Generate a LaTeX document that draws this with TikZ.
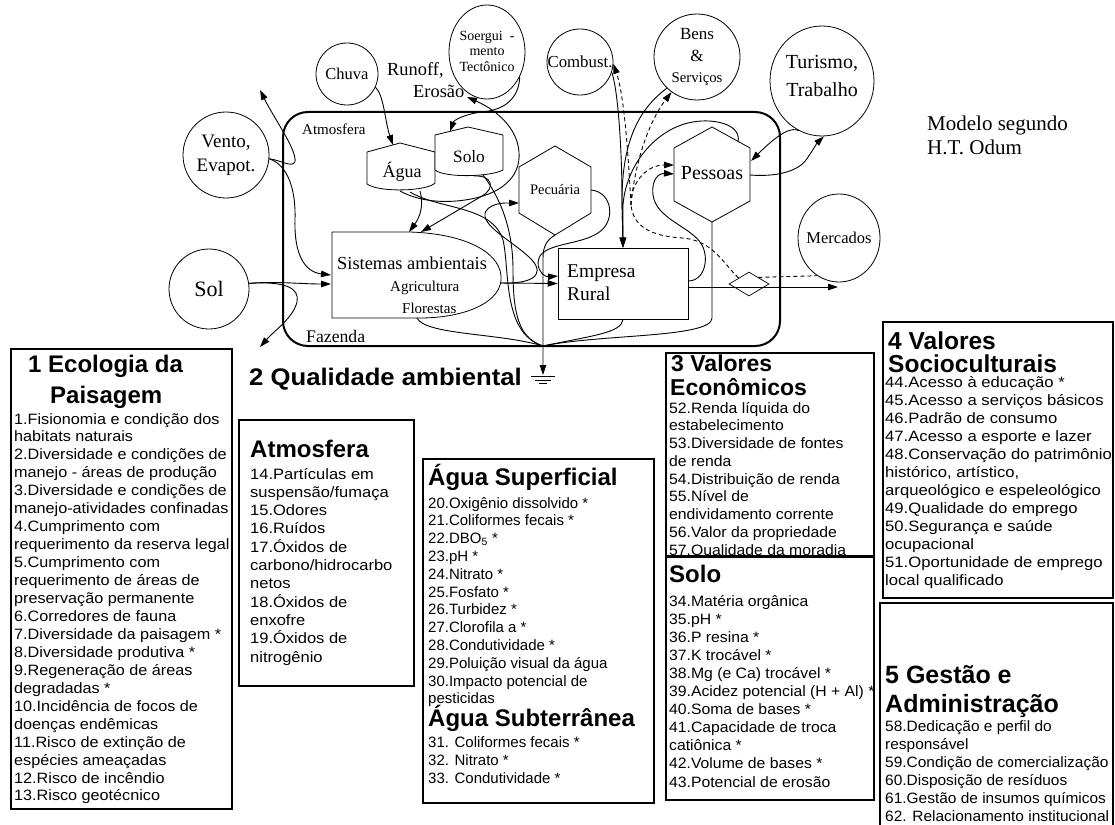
\documentclass[tikz,border=0pt]{standalone}
\usepackage{fontspec}
\setmainfont{Liberation Serif}
\setsansfont{Liberation Sans}
\newfontfamily\sfA{Liberation Sans}[FakeStretch=1.08]
\newfontfamily\sfB{Liberation Sans}[FakeStretch=1.10]
\newfontfamily\sfC{Liberation Sans}[FakeStretch=1.05]
\newfontfamily\sfD{Liberation Sans}[FakeStretch=1.11]
\newfontfamily\sfE{Liberation Sans}[FakeStretch=1.03]
\newfontfamily\sfH{Liberation Sans}[FakeStretch=1.07]
\usetikzlibrary{arrows.meta,shapes.geometric}
\newcommand{\fsz}[1]{\fontsize{#1}{#1}\selectfont}
\begin{document}
\begin{tikzpicture}[x=1pt,y=-1pt,
  src/.style={draw, line width=0.8pt, circle, inner sep=0pt, align=center},
  esrc/.style={draw, line width=0.8pt, ellipse, inner sep=0pt},
  shp/.style={draw, line width=0.8pt},
  flow/.style={line width=0.9pt, -{Triangle[length=10pt,width=6.5pt]}},
  plain/.style={line width=0.9pt},
  money/.style={line width=0.9pt, dash pattern=on 4pt off 3pt},
  moneyA/.style={money, -{Triangle[length=10pt,width=6.5pt]}},
  lab/.style={inner sep=0pt, anchor=base west},
  item/.style={inner sep=0pt, anchor=base west, font=\sffamily\fsz{15}},
  head/.style={inner sep=0pt, anchor=base west, font=\sffamily\bfseries\fsz{24}},
  box/.style={draw, line width=1.4pt}
]
\useasboundingbox (0,0) rectangle (1115,824);

% ---------- Fazenda frame ----------
\node[draw, line width=2pt, rounded corners=25pt, minimum width=497pt, minimum height=234pt, inner sep=0pt] (faz) at (531.5,229) {};
\node[lab, font=\fsz{15}] (atmlab) at (302,135) {Atmosfera};
\node[lab, font=\fsz{17.7}] (fazlab) at (306,342) {Fazenda};

% ---------- sources ----------
\node[src, minimum size=62pt, font=\fsz{16.5}] (chuva) at (347,74) {Chuva};
\node[src, minimum size=86pt, font=\fsz{19}] (vento) at (226,155) {Vento,\\[5pt]Evapot.};
\node[esrc, minimum width=76pt, minimum height=94pt] (soerg) at (487,52) {};
\node[align=center, font=\fsz{14}, inner sep=0pt] (soergT) at (487,51) {Soergui\ \ -\\[1.5pt]mento\\[1.5pt]Tectônico};
\node[src, minimum size=66pt, font=\fsz{16.8}] (comb) at (580,62) {Combust.};
\node[src, minimum size=86pt, font=\fsz{17}] (bens) at (697,57) {Bens\\[5pt]\&\\[4pt]{\fsz{14.8}Serviços}};
\node[esrc, minimum width=104pt, minimum height=110pt] (tur) at (822,81) {};
\node[align=center, font=\fsz{20}, inner sep=0pt] (turT) at (822,76) {Turismo,\\[8pt]Trabalho};
\node[src, minimum size=80pt, font=\fsz{22}] (sol) at (209,289) {Sol};
\node[esrc, minimum width=82pt, minimum height=88pt] (merc) at (839,238) {};
\node[font=\fsz{16.5}, inner sep=0pt] (mercT) at (839,238) {Mercados};

\node[lab, font=\fsz{18.4}] (run1) at (387,76) {Runoff,};
\node[lab, font=\fsz{18.4}] (run2) at (413,98) {Erosão};

\node[lab, font=\fsz{21}] (mod1) at (927,130) {Modelo segundo};
\node[lab, font=\fsz{21}] (mod2) at (927,154) {H.T. Odum};

% ---------- storages ----------
\draw[shp] (367,152) -- (400,143) -- (435,152) -- (435,183) .. controls (428,191) and (380,193) .. (367,184) -- cycle;
\node[font=\fsz{18}, inner sep=0pt] (agua) at (402,172) {Água};
\draw[shp, fill=white] (435,135) -- (468,127) -- (503,135) -- (503,170) .. controls (490,177) and (445,178) .. (435,170) -- cycle;
\node[font=\fsz{17.3}, inner sep=0pt] (solo) at (469,157) {Solo};

% hexagons
\draw[shp] (519,167) -- (555,146) -- (591,167) -- (591,213) -- (555,235) -- (519,213) -- cycle;
\node[font=\fsz{14.5}, inner sep=0pt] (pec) at (555,190) {Pecuária};
\draw[shp] (674,148) -- (712,127) -- (750,148) -- (750,201) -- (712,222) -- (674,201) -- cycle;
\node[font=\fsz{20}, inner sep=0pt] (pes) at (712,173) {Pessoas};

% producer (Sistemas ambientais)
\draw[shp] (332,232) -- (410,232) .. controls (470,234) and (503,255) .. (501,280) .. controls (499,305) and (460,318) .. (420,318) -- (332,318) -- cycle;
\node[lab, font=\fsz{18.4}] (sistT) at (337,269) {Sistemas ambientais};
\node[lab, font=\fsz{15}] (agr) at (390,291) {Agricultura};
\node[lab, font=\fsz{15}] (flor) at (402,313) {Florestas};

% Empresa Rural
\node[draw, line width=0.8pt, minimum width=130pt, minimum height=71pt, inner sep=0pt] (emp) at (623,283.5) {};
\node[lab, font=\fsz{19.5}] (empT1) at (567,277) {Empresa};
\node[lab, font=\fsz{19.5}] (empT2) at (567,300) {Rural};

% diamond (transaction)
\node[draw, diamond, line width=0.7pt, minimum width=40pt, minimum height=24pt, inner sep=0pt] (dia) at (749,284) {};

% ---------- named points ----------
\coordinate (aguaTop) at (393,145);
\coordinate (aguaB1) at (400,191);
\coordinate (aguaB2) at (420,191);
\coordinate (aguaB3) at (410,192);
\coordinate (soloTL) at (450,131.5);
\coordinate (soloB1) at (474,176);
\coordinate (soloB2) at (483,175);
\coordinate (sistTop1) at (409,232);
\coordinate (sistTop2) at (421,232);
\coordinate (sistE) at (501,283);
\coordinate (sistW1) at (331,275);
\coordinate (sistW2) at (331,284);
\coordinate (sistB) at (417,318);
\coordinate (pecW) at (519,203);
\coordinate (pecE) at (591,190);
\coordinate (pecS) at (555,235);
\coordinate (pesW1) at (674,165);
\coordinate (pesW2) at (674,174);
\coordinate (pesE) at (750,175);
\coordinate (pesNE) at (751,161);
\coordinate (pesTop) at (738,142);
\coordinate (pesS) at (712,222);
\coordinate (empW2) at (558,276);
\coordinate (empE1) at (688,281);
\coordinate (empE2) at (688,287);
\coordinate (sink) at (543,346);
\coordinate (gnd) at (543,375);
\coordinate (evap) at (260,90);
\coordinate (solOut) at (260,347);
\coordinate (mkt) at (838,287);
\coordinate (runoff) at (467,97);
\coordinate (mj) at (631,205);

% ---------- energy flows ----------
\draw[flow] (chuva.-25) .. controls (384,95) and (385,122) .. (aguaTop);
\draw[flow] (soerg.-37) .. controls (519,98) and (505,110) .. (482,112) .. controls (465,114) and (454,120) .. (soloTL);
\draw[flow] (aguaB1) .. controls (420,202) and (445,203) .. (465,200) .. controls (500,195) and (521,178) .. (519,152) .. controls (517,125) and (492,108) .. (runoff);
\draw[flow] (aguaB2) .. controls (424,205) and (420,217) .. (sistTop1);
\draw[flow] (soloB1) .. controls (492,175) and (496,188) .. (482,196) -- (sistTop2);
\draw[plain] (soloB2) .. controls (498,195) and (513,225) .. (513,270) .. controls (513,318) and (520,338) .. (sink);
\draw[plain] (aguaB3) .. controls (440,210) and (492,205) .. (503,240) .. controls (510,270) and (502,333) .. (sink);
\draw[plain] (sistB) .. controls (425,335) and (500,333) .. (sink);
\draw[plain] (emp.south) .. controls (622,333) and (590,336) .. (sink);
\draw[plain] (pesS) -- (712,318) .. controls (712,338) and (600,334) .. (sink);
\draw[flow] (pecS) .. controls (547,240) and (543,246) .. (543,258) -- (gnd);

\draw[flow] (vento.-5) .. controls (288,165) and (296,190) .. (295,220) .. controls (294,255) and (305,272) .. (sistW1);
\draw[flow] (vento.-5) .. controls (280,160) and (292,168) .. (295,162) .. controls (297,150) and (275,120) .. (evap);
\draw[flow] (sol.8) .. controls (275,281) and (300,284) .. (sistW2);
\draw[flow] (sol.8) .. controls (285,281) and (300,288) .. (297,302) .. controls (293,318) and (275,330) .. (solOut);

\draw[flow] (sistE) -- (emp.west);
\draw[flow] (sistE) .. controls (530,284) and (546,276) .. (532,260) .. controls (515,242) and (478,225) .. (486,211) .. controls (492,202) and (508,203) .. (pecW);
\draw[flow] (pecE) .. controls (613,192) and (616,222) .. (598,233) .. controls (580,245) and (545,243) .. (539,258) .. controls (535,270) and (545,277) .. (empW2);

\draw[flow] (comb.-18) .. controls (618,90) and (622,150) .. (622,200) -- (emp.north);
\draw[flow] (bens.-134) .. controls (640,108) and (622,140) .. (622,200) -- (emp.north);
\draw[flow] (pesTop) .. controls (742,124) and (712,117) .. (688,123) .. controls (655,131) and (626,165) .. (623,205) -- (emp.north);

\draw[flow] (empE1) .. controls (706,281) and (710,255) .. (700,242) .. controls (688,226) and (656,218) .. (653,195) .. controls (651,178) and (660,173) .. (pesW2);
\draw[flow] (pesE) .. controls (775,177) and (797,172) .. (806,160) .. controls (813,150) and (817,143) .. (tur.-88);
\draw[flow] (tur.-115) .. controls (792,127) and (780,132) .. (pesNE);

\draw[flow] (empE2) -- (mkt);

% ---------- money flows ----------
\draw[money] (dia.150) .. controls (722,262) and (712,240) .. (682,238) .. controls (650,236) and (633,226) .. (mj);
\draw[moneyA] (mj) .. controls (628,150) and (624,95) .. (comb.-3);
\draw[moneyA] (mj) .. controls (635,160) and (650,120) .. (bens.-126);
\draw[moneyA] (mj) .. controls (630,185) and (645,165) .. (pesW1);
\draw[money] (dia.35) -- (merc.240);

% ---------- heat sink ----------
\draw[line width=1.6pt] (531,376.5) -- (555,376.5);
\draw[line width=1pt] (535,380) -- (551,380);
\draw[line width=1pt] (539,383.5) -- (547,383.5);

% ---------- Box 1 ----------
\draw[box] (11,349) rectangle (232,809);
\node[head] (h1a) at (28,372) {1 Ecologia da};
\node[head] (h1b) at (50,403) {Paisagem};
\foreach \t [count=\i from 0] in {1.Fisionomia e condição dos, habitats naturais, 2.Diversidade e condições de, manejo - áreas de produção, 3.Diversidade e condições de, manejo-atividades confinadas, 4.Cumprimento com, requerimento da reserva legal, 5.Cumprimento com, requerimento de áreas de, preservação permanente, 6.Corredores de fauna, 7.Diversidade da paisagem *, 8.Diversidade produtiva *, 9.Regeneração de áreas, degradadas *, 10.Incidência de focos de, doenças endêmicas, 11.Risco de extinção de, espécies ameaçadas, 12.Risco de incêndio, 13.Risco geotécnico}
  \node[item, font=\sfA\fsz{15}] (b1-\i) at (14,{424+\i*17.95}) {\t};

% ---------- 2 Qualidade ambiental ----------
\node[head, font=\sfH\bfseries\fsz{24}] (h2) at (249,385) {2 Qualidade ambiental};

\draw[box] (239,420) rectangle (414,686);
\node[head] (hat) at (250,457) {Atmosfera};
\foreach \t [count=\i from 0] in {14.Partículas em, suspensão/fumaça, 15.Odores, 16.Ruídos, 17.Óxidos de, carbono/hidrocarbo, netos, 18.Óxidos de, enxofre, 19.Óxidos de, nitrogênio}
  \node[item, font=\sfB\fsz{15}] (ba-\i) at (250,{479+\i*18.3}) {\t};

\draw[box] (423,459) rectangle (654,803);
\node[head] (hag) at (428,485) {Água Superficial};
\foreach \t [count=\i from 0] in {20.Oxigênio dissolvido *, 21.Coliformes fecais *, {22.DBO\textsubscript{5} *}, 23.pH *, 24.Nitrato *, 25.Fosfato *, 26.Turbidez *, 27.Clorofila a *, 28.Condutividade *, 29.Poluição visual da água, 30.Impacto potencial de, pesticidas}
  \node[item] (bw-\i) at (428,{508+\i*17.8}) {\t};
\node[head] (has) at (428,726) {Água Subterrânea};
\foreach \t [count=\i from 0] in {31. Coliformes fecais *, 32. Nitrato *, 33. Condutividade *}
  \node[item] (bg-\i) at (428,{747+\i*18}) {\t};

% ---------- 3 Valores Economicos ----------
\draw[box] (666,353) rectangle (874,556);
\node[head, font=\sffamily\bfseries\fsz{23}] (he1) at (671,371) {3 Valores};
\node[head, font=\sffamily\bfseries\fsz{23}] (he2) at (670,395) {Econômicos};
\foreach \t [count=\i from 0] in {52.Renda líquida do, estabelecimento, 53.Diversidade de fontes, de renda, 54.Distribuição de renda, 55.Nível de, endividamento corrente, 56.Valor da propriedade, 57.Qualidade da moradia}
  \node[item, font=\sfC\fsz{15}] (be-\i) at (669,{413+\i*17.75}) {\t};

\draw[box] (666,557) rectangle (874,800);
\node[head] (hs) at (669,582) {Solo};
\foreach \t [count=\i from 0] in {34.Matéria orgânica, 35.pH *, 36.P resina *, 37.K trocável *, 38.Mg (e Ca) trocável *, 39.Acidez potencial (H + Al) *, 40.Soma de bases *, 41.Capacidade de troca, catiônica *, 42.Volume de bases *, 43.Potencial de erosão}
  \node[item, font=\sfC\fsz{15}] (bs-\i) at (669,{606+\i*18.1}) {\t};

% ---------- 4 Valores Socioculturais ----------
\draw[box] (883,322) rectangle (1113,598);
\node[head, font=\sffamily\bfseries\fsz{24.5}] (h4a) at (888,349) {4 Valores};
\node[head, font=\sffamily\bfseries\fsz{24.5}] (h4b) at (888,372) {Socioculturais};
\foreach \t [count=\i from 0] in {44.Acesso à educação *, 45.Acesso a serviços básicos, 46.Padrão de consumo, 47.Acesso a esporte e lazer, 48.Conservação do patrimônio, {histórico, artístico,}, arqueológico e espeleológico, 49.Qualidade do emprego, 50.Segurança e saúde, ocupacional, 51.Oportunidade de emprego, local qualificado}
  \node[item, font=\sfD\fsz{15}] (b4-\i) at (885,{387+\i*18}) {\t};

% ---------- 5 Gestao e Administracao ----------
\draw[box] (880,603) rectangle (1113,840);
\node[head, font=\sffamily\bfseries\fsz{25}] (h5a) at (885,683) {5 Gestão e};
\node[head, font=\sffamily\bfseries\fsz{25}] (h5b) at (885,712) {Administração};
\foreach \t [count=\i from 0] in {58.Dedicação e perfil do, responsável, 59.Condição de comercialização, 60.Disposição de resíduos, 61.Gestão de insumos químicos, 62. Relacionamento institucional}
  \node[item, font=\sfE\fsz{15}] (b5-\i) at (885,{731+\i*18.1}) {\t};
\end{tikzpicture}
\end{document}
